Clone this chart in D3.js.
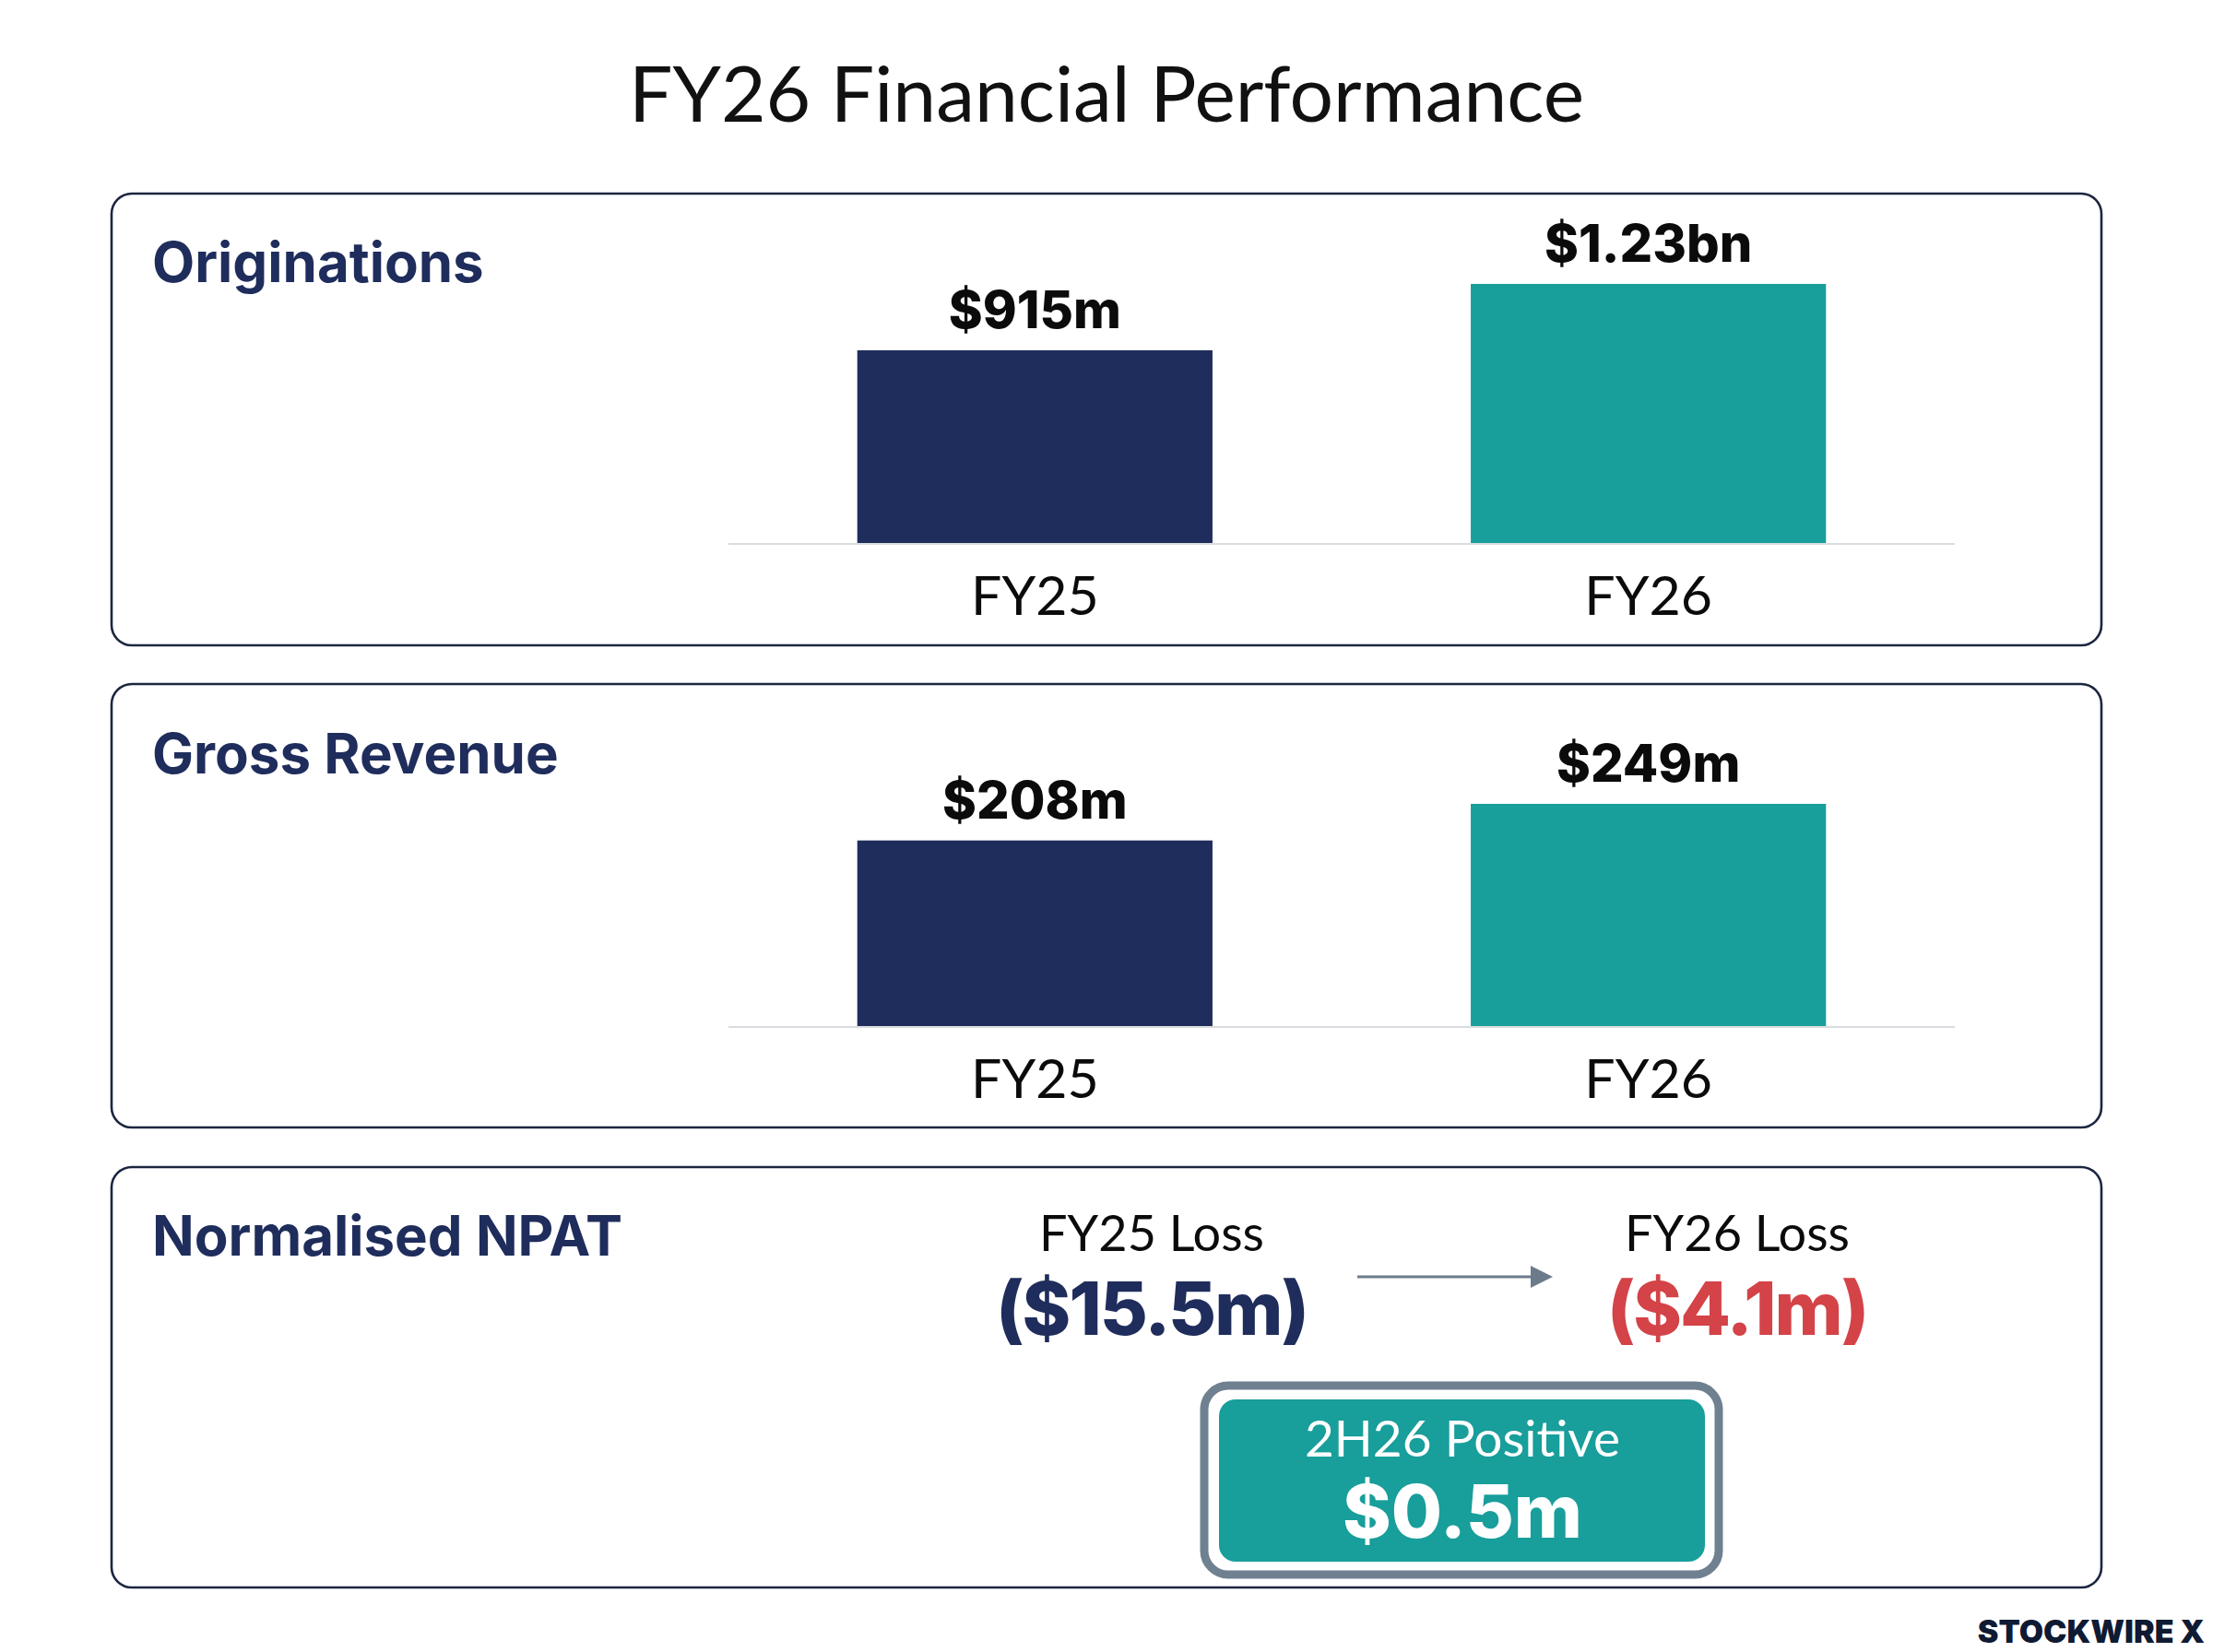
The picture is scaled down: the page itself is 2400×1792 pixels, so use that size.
<!DOCTYPE html>
<html>
<head>
<meta charset="utf-8">
<script src="https://cdn.jsdelivr.net/npm/d3@7"></script>
<style>
  html, body { margin: 0; padding: 0; background: #ffffff; }
</style>
</head>
<body>
<div id="chart"></div>
<script>
// *** DATA ***
const periods = ["FY25", "FY26"];
const originations = [915, 1230];
const originationLabels = ["$915m", "$1.23bn"];
const grossRevenue = [208, 249];
const revenueLabels = ["$208m", "$249m"];
const npatHeads = ["FY25 Loss", "FY26 Loss"];
const npatValues = [-15.5, -4.1];
const npatLabels = ["($15.5m)", "($4.1m)"];
const halfHead = "2H26 Positive";
const halfValue = 0.5;
const halfLabel = "$0.5m";

// *** SETTINGS ***
let width = 2400, height = 1792;
let colors = {
  navy: "#1f2d5c",
  teal: "#189e9b",
  border: "#1c2640",
  base: "#d9dce0",
  red: "#d34348",
  arrow: "#6c7b8b",
  boxEdge: "#6f8091",
  ink: "#0b0b0b"
};
let lightFont = "Lato, 'Open Sans', sans-serif";
let boldFont = "Inter, 'Open Sans', sans-serif";

let panels = [
  {title: "Originations", y: 210, h: 490, titleY: 306},
  {title: "Gross Revenue", y: 742, h: 481, titleY: 839},
  {title: "Normalised NPAT", y: 1266, h: 456, titleY: 1362}
];
let panelX = 121, panelW = 2158;

let svg = d3.select("#chart").append("svg")
  .attr("width", width)
  .attr("height", height)
  .style("display", "block");

svg.append("rect").attr("width", width).attr("height", height).attr("fill", "#ffffff");

// title
svg.append("text")
  .attr("x", 1200)
  .attr("y", 132)
  .attr("text-anchor", "middle")
  .style("font-family", lightFont)
  .style("font-size", "84px")
  .style("fill", "#111")
  .text("FY26 Financial Performance");

// panel frames + titles
let frames = svg.append("g").attr("class", "frames");
frames.selectAll("rect")
  .data(panels)
  .enter()
  .append("rect")
    .attr("x", panelX)
    .attr("y", d => d.y)
    .attr("width", panelW)
    .attr("height", d => d.h)
    .attr("rx", 22)
    .attr("fill", "none")
    .attr("stroke", colors.border)
    .attr("stroke-width", 2.6);

frames.selectAll("text")
  .data(panels)
  .enter()
  .append("text")
    .attr("x", 165)
    .attr("y", d => d.titleY)
    .style("font-family", boldFont)
    .style("font-weight", 700)
    .style("font-size", "60px")
    .style("fill", colors.navy)
    .text(d => d.title);

// shared x band scale for bar panels
let x = d3.scaleBand()
  .domain(periods)
  .range([790, 2120])
  .paddingInner(0.421)
  .paddingOuter(0.21);

function barPanel(values, labels, baseY, topY) {
  let y = d3.scaleLinear()
    .domain([0, d3.max(values)])
    .range([baseY, topY]);

  let g = svg.append("g").attr("class", "barPanel");

  g.append("line")
    .attr("x1", x.range()[0])
    .attr("x2", x.range()[1])
    .attr("y1", y(0) + 1)
    .attr("y2", y(0) + 1)
    .attr("stroke", colors.base)
    .attr("stroke-width", 2);

  g.selectAll("rect")
    .data(values)
    .enter()
    .append("rect")
      .attr("x", (d, i) => x(periods[i]))
      .attr("y", d => y(d))
      .attr("width", x.bandwidth())
      .attr("height", d => y(0) - y(d))
      .attr("fill", (d, i) => i == 0 ? colors.navy : colors.teal);

  g.selectAll("text.value")
    .data(values)
    .enter()
    .append("text")
      .attr("class", "value")
      .attr("x", (d, i) => x(periods[i]) + x.bandwidth() / 2)
      .attr("y", d => y(d) - 24)
      .attr("text-anchor", "middle")
      .style("font-family", boldFont)
      .style("font-weight", 800)
      .style("font-size", "56px")
      .style("fill", colors.ink)
      .text((d, i) => labels[i]);

  g.selectAll("text.cat")
    .data(periods)
    .enter()
    .append("text")
      .attr("class", "cat")
      .attr("x", d => x(d) + x.bandwidth() / 2)
      .attr("y", y(0) + 78)
      .attr("text-anchor", "middle")
      .style("font-family", lightFont)
      .style("font-size", "59px")
      .style("fill", colors.ink)
      .text(d => d);
}

barPanel(originations, originationLabels, 589, 308);
barPanel(grossRevenue, revenueLabels, 1113, 872);

////////////////////// NPAT //////////////////////
let px = d3.scalePoint()
  .domain(npatHeads)
  .range([1249, 1884]);

let npat = svg.append("g").attr("class", "npat");

npat.selectAll("text.head")
  .data(npatHeads)
  .enter()
  .append("text")
    .attr("class", "head")
    .attr("x", d => px(d))
    .attr("y", 1357)
    .attr("text-anchor", "middle")
    .style("font-family", lightFont)
    .style("font-size", "54px")
    .style("fill", colors.ink)
    .text(d => d);

npat.selectAll("text.loss")
  .data(npatValues)
  .enter()
  .append("text")
    .attr("class", "loss")
    .attr("x", (d, i) => px(npatHeads[i]))
    .attr("y", 1448)
    .attr("text-anchor", "middle")
    .style("font-family", boldFont)
    .style("font-weight", 800)
    .style("font-size", "80px")
    .style("letter-spacing", "-2px")
    .style("fill", (d, i) => i == 0 ? colors.navy : colors.red)
    .text((d, i) => npatLabels[i]);

// arrow between the two losses
let ax0 = px(npatHeads[0]) + 223, ax1 = px(npatHeads[1]) - 200;
npat.append("line")
  .attr("x1", ax0)
  .attr("x2", ax1 - 20)
  .attr("y1", 1385)
  .attr("y2", 1385)
  .attr("stroke", colors.arrow)
  .attr("stroke-width", 3);
npat.append("path")
  .attr("d", `M${ax1 - 24},${1373} L${ax1},${1385} L${ax1 - 24},${1397} Z`)
  .attr("fill", colors.arrow);

// 2H26 positive box
let box = npat.append("g").attr("class", "box");
box.append("rect")
  .attr("x", 1306).attr("y", 1503)
  .attr("width", 558).attr("height", 205)
  .attr("rx", 26)
  .attr("fill", "#ffffff")
  .attr("stroke", colors.boxEdge)
  .attr("stroke-width", 9);
box.append("rect")
  .attr("x", 1322).attr("y", 1518)
  .attr("width", 527).attr("height", 176)
  .attr("rx", 18)
  .attr("fill", colors.teal);
box.append("text")
  .attr("x", 1586).attr("y", 1580)
  .attr("text-anchor", "middle")
  .style("font-family", lightFont)
  .style("font-size", "55px")
  .style("fill", "#ffffff")
  .text(halfHead);
box.append("text")
  .datum(halfValue)
  .attr("x", 1586).attr("y", 1668)
  .attr("text-anchor", "middle")
  .style("font-family", boldFont)
  .style("font-weight", 800)
  .style("font-size", "80px")
  .style("fill", "#ffffff")
  .text(halfLabel);

// watermark
svg.append("text")
  .attr("x", 2391)
  .attr("y", 1782)
  .attr("text-anchor", "end")
  .style("font-family", boldFont)
  .style("font-weight", 900)
  .style("font-size", "34px")
  .style("fill", "#0f1a33")
  .text("STOCKWIRE X");
</script>
</body>
</html>
